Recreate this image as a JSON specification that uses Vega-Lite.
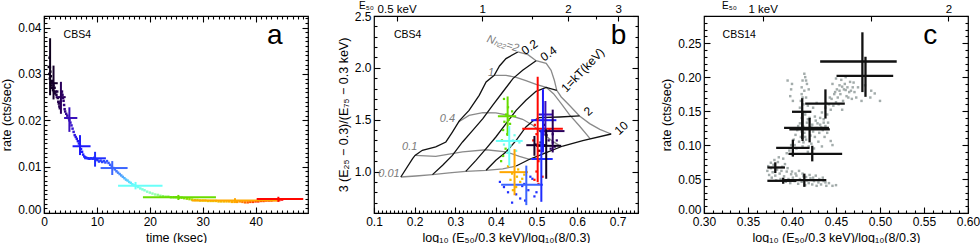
{
"$schema": "https://vega.github.io/schema/vega-lite/v6.json",
"background": "white",
"padding": {"left": 0, "top": -1, "right": 0, "bottom": 0},
"spacing": 66,
"bounds": "flush",
"config": {
  "font": "Liberation Sans",
  "view": {"stroke": "black", "strokeWidth": 1.2},
  "axis": {"domain": false, "grid": false, "tickColor": "black", "tickWidth": 1.1, "labelColor": "black", "labelFont": "Liberation Sans", "labelFontSize": 12, "titleFont": "Liberation Sans", "titleFontSize": 12.5, "titleFontWeight": "normal", "titleColor": "black", "labelOverlap": false, "labelFlush": false, "labelBound": false}
},
"datasets": {
  "a_dots": [
    {"t":0.9,"r":0.0315},{"t":1.0,"r":0.0300},{"t":1.05,"r":0.0335},{"t":1.1,"r":0.0290},{"t":1.2,"r":0.0305},{"t":1.25,"r":0.0280},{"t":1.3,"r":0.0295},{"t":1.4,"r":0.0275},{"t":1.5,"r":0.0285},{"t":1.55,"r":0.0270},{"t":1.6,"r":0.0280},{"t":1.7,"r":0.0265},{"t":1.8,"r":0.0275},{"t":1.9,"r":0.0262},{"t":2.0,"r":0.0270},{"t":2.1,"r":0.0258},{"t":2.2,"r":0.0262},{"t":2.35,"r":0.0255},{"t":2.5,"r":0.0262},{"t":2.6,"r":0.0248},{"t":2.7,"r":0.0240},{"t":2.8,"r":0.0236},{"t":2.9,"r":0.0230},{"t":3.0,"r":0.0226},{"t":3.1,"r":0.0240},{"t":3.2,"r":0.0250},{"t":3.3,"r":0.0258},{"t":3.4,"r":0.0262},{"t":3.5,"r":0.0255},{"t":3.6,"r":0.0248},{"t":3.7,"r":0.0242},{"t":3.8,"r":0.0233},{"t":3.9,"r":0.0224},{"t":4.0,"r":0.0219},{"t":4.2,"r":0.0214},{"t":4.4,"r":0.0210},{"t":4.6,"r":0.0205},{"t":4.8,"r":0.0200},{"t":5.0,"r":0.0195},{"t":5.2,"r":0.0189},{"t":5.4,"r":0.0182},{"t":5.6,"r":0.0175},{"t":5.8,"r":0.0168},{"t":6.0,"r":0.0164},{"t":6.2,"r":0.0160},{"t":6.4,"r":0.0155},{"t":6.6,"r":0.0150},{"t":6.8,"r":0.0145},{"t":7.0,"r":0.0138},{"t":7.2,"r":0.0132},{"t":7.4,"r":0.0126},{"t":7.6,"r":0.0122},{"t":7.8,"r":0.0120},{"t":8.0,"r":0.0119},{"t":8.3,"r":0.0118},{"t":8.6,"r":0.0117},{"t":8.9,"r":0.0118},{"t":9.2,"r":0.0117},{"t":9.5,"r":0.0119},{"t":9.8,"r":0.0116},{"t":10.1,"r":0.0114},{"t":10.4,"r":0.0111},{"t":10.7,"r":0.0113},{"t":11.0,"r":0.0110},{"t":11.3,"r":0.0112},{"t":11.6,"r":0.0109},{"t":11.9,"r":0.0112},{"t":12.2,"r":0.0108},{"t":12.5,"r":0.0104},{"t":12.8,"r":0.0100},{"t":13.1,"r":0.0097},{"t":13.4,"r":0.0094},{"t":13.7,"r":0.0090},{"t":14.0,"r":0.0087},{"t":14.3,"r":0.0084},{"t":14.6,"r":0.0081},{"t":14.9,"r":0.0078},{"t":15.2,"r":0.0075},{"t":15.5,"r":0.0072},{"t":15.8,"r":0.0070},{"t":16.1,"r":0.0067},{"t":16.4,"r":0.0065},{"t":16.7,"r":0.0062},{"t":17.0,"r":0.0060},{"t":17.4,"r":0.0058},{"t":17.8,"r":0.0056},{"t":18.2,"r":0.0053},{"t":18.6,"r":0.0051},{"t":19.0,"r":0.0049},{"t":19.5,"r":0.0046},{"t":20.0,"r":0.0044},{"t":20.5,"r":0.0042},{"t":21.0,"r":0.0040},{"t":21.5,"r":0.0039},{"t":22.0,"r":0.0037},{"t":22.5,"r":0.0036},{"t":23.0,"r":0.0035},{"t":23.5,"r":0.0035},{"t":24.0,"r":0.0034},{"t":24.5,"r":0.0034},{"t":25.0,"r":0.0034},{"t":25.5,"r":0.0033},{"t":26.0,"r":0.0033},{"t":26.5,"r":0.0032},{"t":27.0,"r":0.0031},{"t":27.5,"r":0.0030},{"t":28.0,"r":0.0029},{"t":28.5,"r":0.0028},{"t":29.0,"r":0.0028},{"t":29.5,"r":0.0027},{"t":30.0,"r":0.0027},{"t":30.5,"r":0.0027},{"t":31.0,"r":0.0026},{"t":31.5,"r":0.0026},{"t":32.0,"r":0.0026},{"t":32.5,"r":0.0026},{"t":33.0,"r":0.0025},{"t":33.5,"r":0.0025},{"t":34.0,"r":0.0025},{"t":34.5,"r":0.0025},{"t":35.0,"r":0.0025},{"t":35.5,"r":0.0024},{"t":36.0,"r":0.0024},{"t":36.5,"r":0.0024},{"t":37.0,"r":0.0025},{"t":37.5,"r":0.0024},{"t":38.0,"r":0.0023},{"t":38.5,"r":0.0023},{"t":39.0,"r":0.0024},{"t":39.5,"r":0.0024},{"t":40.0,"r":0.0025},{"t":40.5,"r":0.0025},{"t":41.0,"r":0.0026},{"t":41.5,"r":0.0026},{"t":42.0,"r":0.0027},{"t":42.5,"r":0.0027},{"t":43.0,"r":0.0027},{"t":43.5,"r":0.0028},{"t":44.0,"r":0.0028},{"t":44.5,"r":0.0028},{"t":45.0,"r":0.0029}
  ],
  "a_err": [
    {"t":1.15,"tlo":0.95,"thi":1.35,"r":0.0314,"rlo":0.0254,"rhi":0.0377},
    {"t":1.8,"tlo":1.2,"thi":2.6,"r":0.0280,"rlo":0.0245,"rhi":0.0318},
    {"t":3.2,"tlo":2.2,"thi":4.1,"r":0.0250,"rlo":0.0214,"rhi":0.0283},
    {"t":4.8,"tlo":3.8,"thi":6.3,"r":0.0205,"rlo":0.0175,"rhi":0.0228},
    {"t":6.8,"tlo":5.4,"thi":8.8,"r":0.0144,"rlo":0.0125,"rhi":0.0168},
    {"t":9.65,"tlo":7.6,"thi":11.7,"r":0.0118,"rlo":0.0100,"rhi":0.0132},
    {"t":12.9,"tlo":10.7,"thi":15.8,"r":0.0097,"rlo":0.0082,"rhi":0.0112},
    {"t":17.3,"tlo":14.0,"thi":22.4,"r":0.0059,"rlo":0.0051,"rhi":0.0067},
    {"t":25.4,"tlo":18.7,"thi":32.5,"r":0.0034,"rlo":0.0028,"rhi":0.0039},
    {"t":36.1,"tlo":27.9,"thi":44.5,"r":0.0027,"rlo":0.0022,"rhi":0.0032},
    {"t":44.3,"tlo":40.2,"thi":49.0,"r":0.0030,"rlo":0.0024,"rhi":0.0035}
  ],
  "b_kt": [
    {"kt":"0.2","x":0.166,"y":0.947},{"kt":"0.2","x":0.195,"y":1.124},{"kt":"0.2","x":0.201,"y":1.156},{"kt":"0.2","x":0.219,"y":1.205},{"kt":"0.2","x":0.252,"y":1.237},{"kt":"0.2","x":0.277,"y":1.285},{"kt":"0.2","x":0.293,"y":1.381},{"kt":"0.2","x":0.310,"y":1.488},{"kt":"0.2","x":0.334,"y":1.590},{"kt":"0.2","x":0.359,"y":1.735},{"kt":"0.2","x":0.376,"y":1.864},{"kt":"0.2","x":0.396,"y":1.928},{"kt":"0.2","x":0.409,"y":2.018},{"kt":"0.2","x":0.425,"y":2.089},{"kt":"0.2","x":0.454,"y":2.153},
    {"kt":"0.4","x":0.244,"y":0.970},{"kt":"0.4","x":0.269,"y":1.060},{"kt":"0.4","x":0.293,"y":1.156},{"kt":"0.4","x":0.318,"y":1.285},{"kt":"0.4","x":0.343,"y":1.397},{"kt":"0.4","x":0.368,"y":1.510},{"kt":"0.4","x":0.392,"y":1.639},{"kt":"0.4","x":0.417,"y":1.767},{"kt":"0.4","x":0.442,"y":1.896},{"kt":"0.4","x":0.466,"y":1.976},{"kt":"0.4","x":0.499,"y":2.069},
    {"kt":"1","x":0.326,"y":1.002},{"kt":"1","x":0.351,"y":1.108},{"kt":"1","x":0.376,"y":1.221},{"kt":"1","x":0.400,"y":1.333},{"kt":"1","x":0.425,"y":1.462},{"kt":"1","x":0.450,"y":1.590},{"kt":"1","x":0.474,"y":1.687},{"kt":"1","x":0.499,"y":1.774},{"kt":"1","x":0.524,"y":1.812},{"kt":"1","x":0.550,"y":1.783},
    {"kt":"2","x":0.376,"y":1.012},{"kt":"2","x":0.400,"y":1.108},{"kt":"2","x":0.425,"y":1.188},{"kt":"2","x":0.450,"y":1.301},{"kt":"2","x":0.474,"y":1.430},{"kt":"2","x":0.491,"y":1.487},{"kt":"2","x":0.507,"y":1.520},{"kt":"2","x":0.557,"y":1.526},{"kt":"2","x":0.606,"y":1.536},
    {"kt":"10","x":0.450,"y":1.053},{"kt":"10","x":0.483,"y":1.118},{"kt":"10","x":0.524,"y":1.182},{"kt":"10","x":0.565,"y":1.246},{"kt":"10","x":0.614,"y":1.298},{"kt":"10","x":0.684,"y":1.362}
  ],
  "b_nh": [
    {"nh":"0.01","x":0.166,"y":0.947},{"nh":"0.01","x":0.203,"y":0.957},{"nh":"0.01","x":0.244,"y":0.970},{"nh":"0.01","x":0.285,"y":0.986},{"nh":"0.01","x":0.326,"y":1.002},{"nh":"0.01","x":0.376,"y":1.012},{"nh":"0.01","x":0.417,"y":1.025},{"nh":"0.01","x":0.450,"y":1.053},
    {"nh":"0.1","x":0.201,"y":1.156},{"nh":"0.1","x":0.252,"y":1.146},{"nh":"0.1","x":0.318,"y":1.190},{"nh":"0.1","x":0.376,"y":1.210},{"nh":"0.1","x":0.425,"y":1.190},{"nh":"0.1","x":0.458,"y":1.146},{"nh":"0.1","x":0.483,"y":1.118},
    {"nh":"0.4","x":0.308,"y":1.478},{"nh":"0.4","x":0.334,"y":1.542},{"nh":"0.4","x":0.368,"y":1.568},{"nh":"0.4","x":0.400,"y":1.565},{"nh":"0.4","x":0.433,"y":1.542},{"nh":"0.4","x":0.466,"y":1.504},{"nh":"0.4","x":0.491,"y":1.446},{"nh":"0.4","x":0.516,"y":1.365},{"nh":"0.4","x":0.540,"y":1.291},{"nh":"0.4","x":0.561,"y":1.240},
    {"nh":"1","x":0.396,"y":1.928},{"nh":"1","x":0.425,"y":1.928},{"nh":"1","x":0.450,"y":1.909},{"nh":"1","x":0.474,"y":1.876},{"nh":"1","x":0.499,"y":1.841},{"nh":"1","x":0.524,"y":1.812},{"nh":"1","x":0.542,"y":1.751},{"nh":"1","x":0.561,"y":1.655},{"nh":"1","x":0.581,"y":1.548},{"nh":"1","x":0.606,"y":1.439},{"nh":"1","x":0.632,"y":1.317},
    {"nh":"2","x":0.454,"y":2.153},{"nh":"2","x":0.479,"y":2.127},{"nh":"2","x":0.499,"y":2.069},{"nh":"2","x":0.524,"y":2.044},{"nh":"2","x":0.536,"y":1.976},{"nh":"2","x":0.544,"y":1.880},{"nh":"2","x":0.550,"y":1.783},{"nh":"2","x":0.561,"y":1.719},{"nh":"2","x":0.581,"y":1.639},{"nh":"2","x":0.606,"y":1.536},{"nh":"2","x":0.631,"y":1.462},{"nh":"2","x":0.656,"y":1.407},{"nh":"2","x":0.684,"y":1.362}
  ],
  "b_dots": [
    {"x":0.420,"y":1.70,"t":25},{"x":0.430,"y":1.62,"t":25},{"x":0.425,"y":1.55,"t":25},{"x":0.435,"y":1.46,"t":25},{"x":0.418,"y":1.40,"t":25},{"x":0.428,"y":1.36,"t":25},{"x":0.415,"y":1.30,"t":25},{"x":0.424,"y":1.22,"t":25},{"x":0.418,"y":1.15,"t":25},{"x":0.413,"y":1.10,"t":25},{"x":0.432,"y":1.50,"t":25},{"x":0.440,"y":1.58,"t":25},{"x":0.421,"y":1.48,"t":25},
    {"x":0.430,"y":1.38,"t":18},{"x":0.442,"y":1.30,"t":18},{"x":0.436,"y":1.25,"t":18},{"x":0.450,"y":1.20,"t":18},{"x":0.420,"y":1.26,"t":18},{"x":0.446,"y":1.35,"t":18},{"x":0.458,"y":1.28,"t":18},{"x":0.428,"y":1.18,"t":18},
    {"x":0.430,"y":1.05,"t":34},{"x":0.440,"y":0.98,"t":34},{"x":0.452,"y":0.95,"t":34},{"x":0.436,"y":0.92,"t":34},{"x":0.460,"y":0.90,"t":34},{"x":0.470,"y":0.97,"t":34},{"x":0.450,"y":0.85,"t":34},{"x":0.442,"y":0.82,"t":34},{"x":0.455,"y":1.02,"t":34},{"x":0.465,"y":0.93,"t":34},
    {"x":0.410,"y":0.90,"t":10},{"x":0.420,"y":0.85,"t":10},{"x":0.430,"y":0.80,"t":10},{"x":0.450,"y":0.78,"t":10},{"x":0.460,"y":0.74,"t":10},{"x":0.470,"y":0.88,"t":10},{"x":0.480,"y":0.82,"t":10},{"x":0.490,"y":0.93,"t":10},{"x":0.500,"y":0.80,"t":10},{"x":0.440,"y":0.70,"t":10},{"x":0.472,"y":0.72,"t":10},{"x":0.485,"y":0.95,"t":10},{"x":0.465,"y":0.86,"t":10},{"x":0.495,"y":0.76,"t":10},
    {"x":0.495,"y":0.92,"t":43},{"x":0.500,"y":1.00,"t":43},{"x":0.505,"y":1.10,"t":43},{"x":0.508,"y":1.20,"t":43},{"x":0.492,"y":1.30,"t":43},{"x":0.505,"y":0.88,"t":43},{"x":0.496,"y":1.45,"t":43},{"x":0.515,"y":0.95,"t":43},{"x":0.500,"y":1.36,"t":43},
    {"x":0.520,"y":1.25,"t":3.5},{"x":0.530,"y":1.30,"t":3.5},{"x":0.535,"y":1.22,"t":3.5},{"x":0.540,"y":1.28,"t":3.5},{"x":0.525,"y":1.35,"t":3.5},{"x":0.545,"y":1.24,"t":3.5},{"x":0.550,"y":1.30,"t":3.5},{"x":0.532,"y":1.40,"t":3.5},{"x":0.540,"y":1.36,"t":3.5},
    {"x":0.510,"y":1.28,"t":1.5},{"x":0.505,"y":1.20,"t":1.5},{"x":0.520,"y":1.45,"t":1.5},{"x":0.515,"y":1.22,"t":1.5},{"x":0.498,"y":1.26,"t":1.5}
  ],
  "b_err": [
    {"x":0.429,"xlo":0.405,"xhi":0.450,"y":1.533,"ylo":1.343,"yhi":1.724,"t":25.4},
    {"x":0.433,"xlo":0.400,"xhi":0.466,"y":1.295,"ylo":1.057,"yhi":1.438,"t":17.3},
    {"x":0.446,"xlo":0.409,"xhi":0.479,"y":0.994,"ylo":0.771,"yhi":1.216,"t":36.1},
    {"x":0.475,"xlo":0.413,"xhi":0.516,"y":0.873,"ylo":0.676,"yhi":1.057,"t":12.9},
    {"x":0.512,"xlo":0.487,"xhi":0.540,"y":1.121,"ylo":0.708,"yhi":1.406,"t":9.65},
    {"x":0.516,"xlo":0.487,"xhi":0.549,"y":1.495,"ylo":1.184,"yhi":1.794,"t":6.8},
    {"x":0.522,"xlo":0.505,"xhi":0.540,"y":1.550,"ylo":1.350,"yhi":1.680,"t":4.8},
    {"x":0.540,"xlo":0.507,"xhi":0.569,"y":1.390,"ylo":1.184,"yhi":1.597,"t":3.2},
    {"x":0.495,"xlo":0.475,"xhi":0.524,"y":1.254,"ylo":1.152,"yhi":1.343,"t":1.8},
    {"x":0.524,"xlo":0.499,"xhi":0.561,"y":1.248,"ylo":0.930,"yhi":1.406,"t":1.15},
    {"x":0.503,"xlo":0.465,"xhi":0.565,"y":1.413,"ylo":0.898,"yhi":1.914,"t":44.3}
  ],
  "c_dots": [
    {"x":0.372,"y":0.062},{"x":0.374,"y":0.056},{"x":0.376,"y":0.066},{"x":0.378,"y":0.060},{"x":0.379,"y":0.071},{"x":0.381,"y":0.055},{"x":0.383,"y":0.064},{"x":0.384,"y":0.075},{"x":0.386,"y":0.058},{"x":0.387,"y":0.050},{"x":0.389,"y":0.068},{"x":0.390,"y":0.080},{"x":0.391,"y":0.054},{"x":0.393,"y":0.046},{"x":0.394,"y":0.061},{"x":0.396,"y":0.050},{"x":0.398,"y":0.044},{"x":0.399,"y":0.057},{"x":0.401,"y":0.052},{"x":0.403,"y":0.047},{"x":0.405,"y":0.055},{"x":0.407,"y":0.043},{"x":0.409,"y":0.050},{"x":0.411,"y":0.046},{"x":0.413,"y":0.054},{"x":0.415,"y":0.041},{"x":0.417,"y":0.048},{"x":0.419,"y":0.044},{"x":0.421,"y":0.051},{"x":0.423,"y":0.042},{"x":0.425,"y":0.047},{"x":0.428,"y":0.040},{"x":0.430,"y":0.045},{"x":0.433,"y":0.042},{"x":0.436,"y":0.047},{"x":0.439,"y":0.040},{"x":0.442,"y":0.044},{"x":0.446,"y":0.040},{"x":0.450,"y":0.041},{"x":0.380,"y":0.078},{"x":0.376,"y":0.074},{"x":0.385,"y":0.082},
    {"x":0.373,"y":0.069},{"x":0.377,"y":0.052},{"x":0.382,"y":0.048},{"x":0.388,"y":0.062},{"x":0.392,"y":0.072},{"x":0.395,"y":0.066},{"x":0.400,"y":0.061},{"x":0.404,"y":0.058},{"x":0.408,"y":0.062},{"x":0.412,"y":0.058},{"x":0.416,"y":0.053},{"x":0.420,"y":0.056},{"x":0.424,"y":0.052},{"x":0.427,"y":0.055},{"x":0.431,"y":0.050},{"x":0.435,"y":0.052},{"x":0.438,"y":0.045},
    {"x":0.394,"y":0.088},{"x":0.397,"y":0.092},{"x":0.399,"y":0.100},{"x":0.401,"y":0.086},{"x":0.402,"y":0.108},{"x":0.404,"y":0.115},{"x":0.405,"y":0.095},{"x":0.406,"y":0.122},{"x":0.408,"y":0.105},{"x":0.409,"y":0.132},{"x":0.410,"y":0.112},{"x":0.411,"y":0.140},{"x":0.412,"y":0.098},{"x":0.413,"y":0.127},{"x":0.414,"y":0.118},{"x":0.415,"y":0.145},{"x":0.416,"y":0.108},{"x":0.417,"y":0.133},{"x":0.418,"y":0.090},{"x":0.419,"y":0.124},{"x":0.420,"y":0.140},{"x":0.421,"y":0.114},{"x":0.422,"y":0.102},{"x":0.423,"y":0.130},{"x":0.424,"y":0.120},{"x":0.425,"y":0.095},{"x":0.426,"y":0.112},{"x":0.427,"y":0.136},{"x":0.428,"y":0.125},{"x":0.430,"y":0.105},{"x":0.431,"y":0.118},{"x":0.432,"y":0.130},{"x":0.434,"y":0.098},{"x":0.435,"y":0.122},{"x":0.437,"y":0.112},{"x":0.438,"y":0.128},{"x":0.440,"y":0.118},{"x":0.441,"y":0.133},
    {"x":0.403,"y":0.100},{"x":0.407,"y":0.128},{"x":0.411,"y":0.120},{"x":0.415,"y":0.112},{"x":0.418,"y":0.138},{"x":0.422,"y":0.126},{"x":0.426,"y":0.142},{"x":0.429,"y":0.132},{"x":0.433,"y":0.126},{"x":0.436,"y":0.133},{"x":0.419,"y":0.098},{"x":0.413,"y":0.104},
    {"x":0.409,"y":0.155},{"x":0.410,"y":0.165},{"x":0.411,"y":0.175},{"x":0.411,"y":0.185},{"x":0.412,"y":0.195},{"x":0.413,"y":0.160},{"x":0.414,"y":0.180},{"x":0.415,"y":0.200},{"x":0.416,"y":0.170},{"x":0.417,"y":0.190},{"x":0.418,"y":0.158},{"x":0.419,"y":0.182},{"x":0.398,"y":0.172},{"x":0.399,"y":0.182},{"x":0.400,"y":0.190},{"x":0.401,"y":0.165},{"x":0.414,"y":0.205},{"x":0.416,"y":0.195},{"x":0.412,"y":0.170},
    {"x":0.432,"y":0.140},{"x":0.434,"y":0.148},{"x":0.436,"y":0.138},{"x":0.438,"y":0.155},{"x":0.440,"y":0.145},{"x":0.442,"y":0.160},{"x":0.444,"y":0.152},{"x":0.445,"y":0.168},{"x":0.447,"y":0.158},{"x":0.448,"y":0.175},{"x":0.450,"y":0.163},{"x":0.451,"y":0.182},{"x":0.452,"y":0.170},{"x":0.454,"y":0.188},{"x":0.455,"y":0.175},{"x":0.456,"y":0.196},{"x":0.458,"y":0.165},{"x":0.459,"y":0.182},{"x":0.460,"y":0.190},{"x":0.461,"y":0.200},{"x":0.462,"y":0.172},{"x":0.463,"y":0.185},{"x":0.465,"y":0.178},{"x":0.466,"y":0.193},{"x":0.468,"y":0.168},{"x":0.469,"y":0.185},{"x":0.471,"y":0.178},{"x":0.473,"y":0.170},{"x":0.475,"y":0.185},{"x":0.457,"y":0.152},{"x":0.446,"y":0.190},{"x":0.450,"y":0.198},
    {"x":0.449,"y":0.178},{"x":0.453,"y":0.160},{"x":0.457,"y":0.186},{"x":0.461,"y":0.181},{"x":0.464,"y":0.170},{"x":0.467,"y":0.180},{"x":0.470,"y":0.192},{"x":0.443,"y":0.170},{"x":0.439,"y":0.162},{"x":0.454,"y":0.180},
    {"x":0.489,"y":0.170},{"x":0.490,"y":0.180},{"x":0.494,"y":0.176},{"x":0.500,"y":0.165},{"x":0.444,"y":0.106},{"x":0.446,"y":0.100},{"x":0.428,"y":0.162},{"x":0.424,"y":0.155},{"x":0.483,"y":0.188},{"x":0.479,"y":0.165},{"x":0.395,"y":0.195}
  ],
  "c_err": [
    {"x":0.480,"xlo":0.432,"xhi":0.519,"y":0.223,"ylo":0.178,"yhi":0.266},
    {"x":0.4835,"xlo":0.4506,"xhi":0.515,"y":0.202,"ylo":0.171,"yhi":0.230},
    {"x":0.438,"xlo":0.415,"xhi":0.460,"y":0.161,"ylo":0.139,"yhi":0.182},
    {"x":0.4116,"xlo":0.400,"xhi":0.422,"y":0.149,"ylo":0.109,"yhi":0.169},
    {"x":0.412,"xlo":0.391,"xhi":0.442,"y":0.1254,"ylo":0.106,"yhi":0.150},
    {"x":0.420,"xlo":0.397,"xhi":0.443,"y":0.123,"ylo":0.104,"yhi":0.140},
    {"x":0.401,"xlo":0.382,"xhi":0.420,"y":0.096,"ylo":0.083,"yhi":0.108},
    {"x":0.423,"xlo":0.396,"xhi":0.457,"y":0.087,"ylo":0.076,"yhi":0.099},
    {"x":0.381,"xlo":0.372,"xhi":0.392,"y":0.067,"ylo":0.0588,"yhi":0.0746},
    {"x":0.390,"xlo":0.372,"xhi":0.405,"y":0.0474,"ylo":0.043,"yhi":0.052},
    {"x":0.414,"xlo":0.391,"xhi":0.439,"y":0.0484,"ylo":0.0385,"yhi":0.058}
  ]
},
"hconcat": [
  {
    "width": 264, "height": 197,
    "layer": [
      {"data": {"name": "a_dots"}, "mark": {"type": "square", "size": 6, "opacity": 1},
       "encoding": {
         "x": {"field": "t", "type": "quantitative", "scale": {"domain": [0, 49.9], "nice": false, "zero": false},
               "axis": {"orient": "bottom", "tickCount": 50, "tickSize": {"condition": {"test": "datum.value % 10 === 0", "value": -6}, "value": -3}, "labelExpr": "datum.value % 10 === 0 ? datum.label : ''", "labelPadding": 9, "title": "time (ksec)", "titlePadding": 1}},
         "y": {"field": "r", "type": "quantitative", "scale": {"domain": [0, 0.0425], "nice": false, "zero": false},
               "axis": {"orient": "left", "tickCount": 42, "tickSize": {"condition": {"test": "abs(datum.value*100 - round(datum.value*100)) < 1e-6", "value": -6}, "value": -3}, "labelExpr": "abs(datum.value*100 - round(datum.value*100)) < 1e-6 ? format(datum.value, '.2f') : ''", "labelBaseline": {"condition": {"test": "datum.value == 0", "value": "alphabetic"}, "value": "middle"}, "labelPadding": 9, "title": "rate (cts/sec)", "titlePadding": 4}},
         "color": {"field": "t", "type": "quantitative", "legend": null, "scale": {"domain": [0, 2, 3.5, 5, 7, 10, 13.5, 17, 21, 25, 30, 36, 40, 45], "range": ["#000000", "#180030", "#2e0066", "#3c14c8", "#1a1aff", "#2030ff", "#4070ff", "#66ffff", "#99ffaa", "#5edc00", "#d8dc00", "#ffaa00", "#ff3000", "#ff0000"], "interpolate": "rgb", "clamp": true}}
       }},
      {"data": {"name": "a_err"}, "mark": {"type": "rule", "strokeWidth": 2},
       "encoding": {
         "x": {"field": "tlo", "type": "quantitative", "axis": {"orient": "top", "tickCount": 50, "tickSize": {"condition": {"test": "datum.value % 10 === 0", "value": -6}, "value": -3}, "labels": false, "title": null}},
         "x2": {"field": "thi"},
         "y": {"field": "r", "type": "quantitative", "axis": {"orient": "right", "tickCount": 42, "tickSize": {"condition": {"test": "abs(datum.value*100 - round(datum.value*100)) < 1e-6", "value": -6}, "value": -3}, "labels": false, "title": null}},
         "color": {"field": "t", "type": "quantitative", "legend": null}
       }},
      {"data": {"name": "a_err"}, "mark": {"type": "rule", "strokeWidth": 2},
       "encoding": {
         "x": {"field": "t", "type": "quantitative", "axis": null},
         "y": {"field": "rlo", "type": "quantitative", "axis": null},
         "y2": {"field": "rhi"},
         "color": {"field": "t", "type": "quantitative", "legend": null}
       }},
      {"data": {"values": [{"x": 6.3, "y": 0.0383, "label": "CBS4"}]}, "mark": {"type": "text", "fontSize": 10.5, "align": "center", "baseline": "middle", "color": "black"},
       "encoding": {"x": {"field": "x", "type": "quantitative", "axis": null}, "y": {"field": "y", "type": "quantitative", "axis": null}, "text": {"field": "label"}}},
      {"data": {"values": [{"x": 43.6, "y": 0.0364, "label": "a"}]}, "mark": {"type": "text", "fontSize": 28, "align": "center", "baseline": "alphabetic", "color": "black"},
       "encoding": {"x": {"field": "x", "type": "quantitative", "axis": null}, "y": {"field": "y", "type": "quantitative", "axis": null}, "text": {"field": "label"}}}
    ],
    "resolve": {"axis": {"x": "independent", "y": "independent"}}
  },
  {
    "width": 264, "height": 197,
    "layer": [
      {"data": {"name": "b_nh"}, "mark": {"type": "line", "color": "#8a8a8a", "strokeWidth": 1.3},
       "encoding": {
         "x": {"field": "x", "type": "quantitative", "scale": {"domain": [0.1, 0.75], "nice": false, "zero": false},
               "axis": {"orient": "bottom", "tickCount": 60, "tickSize": {"condition": {"test": "abs(datum.value*10 - round(datum.value*10)) < 1e-6", "value": -6}, "value": -3}, "labelExpr": "abs(datum.value*10 - round(datum.value*10)) < 1e-6 ? format(datum.value, '.1f') : ''", "labelPadding": 9, "title": "log₁₀ (E₅₀/0.3 keV)/log₁₀(8/0.3)", "titlePadding": 1}},
         "y": {"field": "y", "type": "quantitative", "scale": {"domain": [0.6, 2.5], "nice": false, "zero": false},
               "axis": {"orient": "left", "tickCount": 17, "tickSize": {"condition": {"test": "abs(datum.value*2 - round(datum.value*2)) < 1e-6", "value": -6}, "value": -3}, "labelExpr": "abs(datum.value*2 - round(datum.value*2)) < 1e-6 ? format(datum.value, '.1f') : ''", "labelPadding": 9, "title": "3 (E₂₅ − 0.3)/(E₇₅ − 0.3 keV)", "titlePadding": 4}},
         "detail": {"field": "nh"}
       }},
      {"data": {"name": "b_kt"}, "mark": {"type": "line", "color": "#111111", "strokeWidth": 1.3},
       "encoding": {
         "x": {"field": "x", "type": "quantitative", "axis": null},
         "y": {"field": "y", "type": "quantitative", "axis": null},
         "detail": {"field": "kt"}
       }},
      {"data": {"name": "b_dots"}, "mark": {"type": "square", "size": 5, "opacity": 1},
       "encoding": {
         "x": {"field": "x", "type": "quantitative", "axis": null},
         "y": {"field": "y", "type": "quantitative", "axis": null},
         "color": {"field": "t", "type": "quantitative", "legend": null}
       }},
      {"data": {"name": "b_err"}, "mark": {"type": "rule", "strokeWidth": 2},
       "encoding": {
         "x": {"field": "xlo", "type": "quantitative", "axis": {"orient": "top", "values": [0.1556, 0.3667, 0.49, 0.5778, 0.6457, 0.7013], "tickSize": {"condition": {"test": "datum.value == 0.49 || datum.value == 0.6457", "value": -3}, "value": -5}, "labelExpr": "datum.value == 0.1556 ? '   0.5 keV' : datum.value == 0.3667 ? '1' : datum.value == 0.5778 ? '2' : datum.value == 0.7013 ? '3' : ''", "labelFontSize": 11.5, "labelPadding": 6.5, "title": "E₅₀", "titleX": -8, "titleY": -8, "titleAlign": "center", "titleBaseline": "alphabetic", "titleFontSize": 10}},
         "x2": {"field": "xhi"},
         "y": {"field": "y", "type": "quantitative", "axis": {"orient": "right", "tickCount": 17, "tickSize": {"condition": {"test": "abs(datum.value*2 - round(datum.value*2)) < 1e-6", "value": -6}, "value": -3}, "labels": false, "title": null}},
         "color": {"field": "t", "type": "quantitative", "legend": null}
       }},
      {"data": {"name": "b_err"}, "mark": {"type": "rule", "strokeWidth": 2},
       "encoding": {
         "x": {"field": "x", "type": "quantitative", "axis": null},
         "y": {"field": "ylo", "type": "quantitative", "axis": null},
         "y2": {"field": "yhi"},
         "color": {"field": "t", "type": "quantitative", "legend": null}
       }},
      {"data": {"values": [{"x": 0.183, "y": 2.317, "label": "CBS4"}]}, "mark": {"type": "text", "fontSize": 10.5, "align": "center", "baseline": "middle", "color": "black"},
       "encoding": {"x": {"field": "x", "type": "quantitative", "axis": null}, "y": {"field": "y", "type": "quantitative", "axis": null}, "text": {"field": "label"}}},
      {"data": {"values": [{"x": 0.702, "y": 2.23, "label": "b"}]}, "mark": {"type": "text", "fontSize": 28, "align": "center", "baseline": "alphabetic", "color": "black"},
       "encoding": {"x": {"field": "x", "type": "quantitative", "axis": null}, "y": {"field": "y", "type": "quantitative", "axis": null}, "text": {"field": "label"}}},
      {"data": {"values": [{"x": 0.137, "y": 0.978, "label": "0.01"}, {"x": 0.188, "y": 1.241, "label": "0.1"}, {"x": 0.281, "y": 1.502, "label": "0.4"}, {"x": 0.388, "y": 1.946, "label": "1"}]}, "mark": {"type": "text", "fontSize": 11, "fontStyle": "italic", "align": "center", "baseline": "middle", "color": "#7a7a7a"},
       "encoding": {"x": {"field": "x", "type": "quantitative", "axis": null}, "y": {"field": "y", "type": "quantitative", "axis": null}, "text": {"field": "label"}}},
      {"data": {"values": [{"x": 0.417, "y": 2.23, "label": "Nₕ₂₂=2"}]}, "mark": {"type": "text", "fontSize": 11, "fontStyle": "italic", "align": "center", "baseline": "middle", "color": "#7a7a7a", "angle": 18},
       "encoding": {"x": {"field": "x", "type": "quantitative", "axis": null}, "y": {"field": "y", "type": "quantitative", "axis": null}, "text": {"field": "label"}}},
      {"data": {"values": [{"x": 0.483, "y": 2.20, "label": "0.2"}, {"x": 0.530, "y": 2.137, "label": "0.4"}]}, "mark": {"type": "text", "fontSize": 12, "align": "center", "baseline": "middle", "color": "black", "angle": 325},
       "encoding": {"x": {"field": "x", "type": "quantitative", "axis": null}, "y": {"field": "y", "type": "quantitative", "axis": null}, "text": {"field": "label"}}},
      {"data": {"values": [{"x": 0.614, "y": 1.978, "label": "1=kT(keV)"}]}, "mark": {"type": "text", "fontSize": 12, "align": "center", "baseline": "middle", "color": "black", "angle": 314},
       "encoding": {"x": {"field": "x", "type": "quantitative", "axis": null}, "y": {"field": "y", "type": "quantitative", "axis": null}, "text": {"field": "label"}}},
      {"data": {"values": [{"x": 0.627, "y": 1.58, "label": "2"}, {"x": 0.709, "y": 1.42, "label": "10"}]}, "mark": {"type": "text", "fontSize": 12, "align": "center", "baseline": "middle", "color": "black", "angle": 318},
       "encoding": {"x": {"field": "x", "type": "quantitative", "axis": null}, "y": {"field": "y", "type": "quantitative", "axis": null}, "text": {"field": "label"}}}
    ],
    "resolve": {"axis": {"x": "independent", "y": "independent"}}
  },
  {
    "width": 264, "height": 197,
    "layer": [
      {"data": {"name": "c_dots"}, "mark": {"type": "square", "size": 6, "opacity": 1, "color": "#a3acab"},
       "encoding": {
         "x": {"field": "x", "type": "quantitative", "scale": {"domain": [0.3, 0.6], "nice": false, "zero": false},
               "axis": {"orient": "bottom", "tickCount": 28, "tickSize": {"condition": {"test": "abs(datum.value*20 - round(datum.value*20)) < 1e-6", "value": -6}, "value": -3}, "labelExpr": "abs(datum.value*20 - round(datum.value*20)) < 1e-6 ? format(datum.value, '.2f') : ''", "labelPadding": 9, "title": "log₁₀ (E₅₀/0.3 keV)/log₁₀(8/0.3)", "titlePadding": 1}},
         "y": {"field": "y", "type": "quantitative", "scale": {"domain": [0, 0.29], "nice": false, "zero": false},
               "axis": {"orient": "left", "tickCount": 27, "tickSize": {"condition": {"test": "abs(datum.value*20 - round(datum.value*20)) < 1e-6", "value": -6}, "value": -3}, "labelExpr": "abs(datum.value*20 - round(datum.value*20)) < 1e-6 ? format(datum.value, '.2f') : ''", "labelBaseline": {"condition": {"test": "datum.value == 0", "value": "alphabetic"}, "value": "middle"}, "labelPadding": 9, "title": "rate (cts/sec)", "titlePadding": 4}}
       }},
      {"data": {"name": "c_err"}, "mark": {"type": "rule", "strokeWidth": 2.3, "color": "#111111"},
       "encoding": {
         "x": {"field": "xlo", "type": "quantitative", "axis": {"orient": "top", "values": [0.3667, 0.49, 0.5778], "tickSize": -5, "labelExpr": "datum.value == 0.3667 ? '     1 keV' : datum.value == 0.5778 ? '2' : ''", "labelFontSize": 11.5, "labelPadding": 6.5, "title": "E₅₀", "titleX": 25, "titleY": -8, "titleAlign": "center", "titleBaseline": "alphabetic", "titleFontSize": 10}},
         "x2": {"field": "xhi"},
         "y": {"field": "y", "type": "quantitative", "axis": {"orient": "right", "tickCount": 27, "tickSize": {"condition": {"test": "abs(datum.value*20 - round(datum.value*20)) < 1e-6", "value": -6}, "value": -3}, "labels": false, "title": null}}
       }},
      {"data": {"name": "c_err"}, "mark": {"type": "rule", "strokeWidth": 2.3, "color": "#111111"},
       "encoding": {
         "x": {"field": "x", "type": "quantitative", "axis": null},
         "y": {"field": "ylo", "type": "quantitative", "axis": null},
         "y2": {"field": "yhi"}
       }},
      {"data": {"values": [{"x": 0.34, "y": 0.262, "label": "CBS14"}]}, "mark": {"type": "text", "fontSize": 10.5, "align": "center", "baseline": "middle", "color": "black"},
       "encoding": {"x": {"field": "x", "type": "quantitative", "axis": null}, "y": {"field": "y", "type": "quantitative", "axis": null}, "text": {"field": "label"}}},
      {"data": {"values": [{"x": 0.557, "y": 0.249, "label": "c"}]}, "mark": {"type": "text", "fontSize": 28, "align": "center", "baseline": "alphabetic", "color": "black"},
       "encoding": {"x": {"field": "x", "type": "quantitative", "axis": null}, "y": {"field": "y", "type": "quantitative", "axis": null}, "text": {"field": "label"}}}
    ],
    "resolve": {"axis": {"x": "independent", "y": "independent"}}
  }
]
}
